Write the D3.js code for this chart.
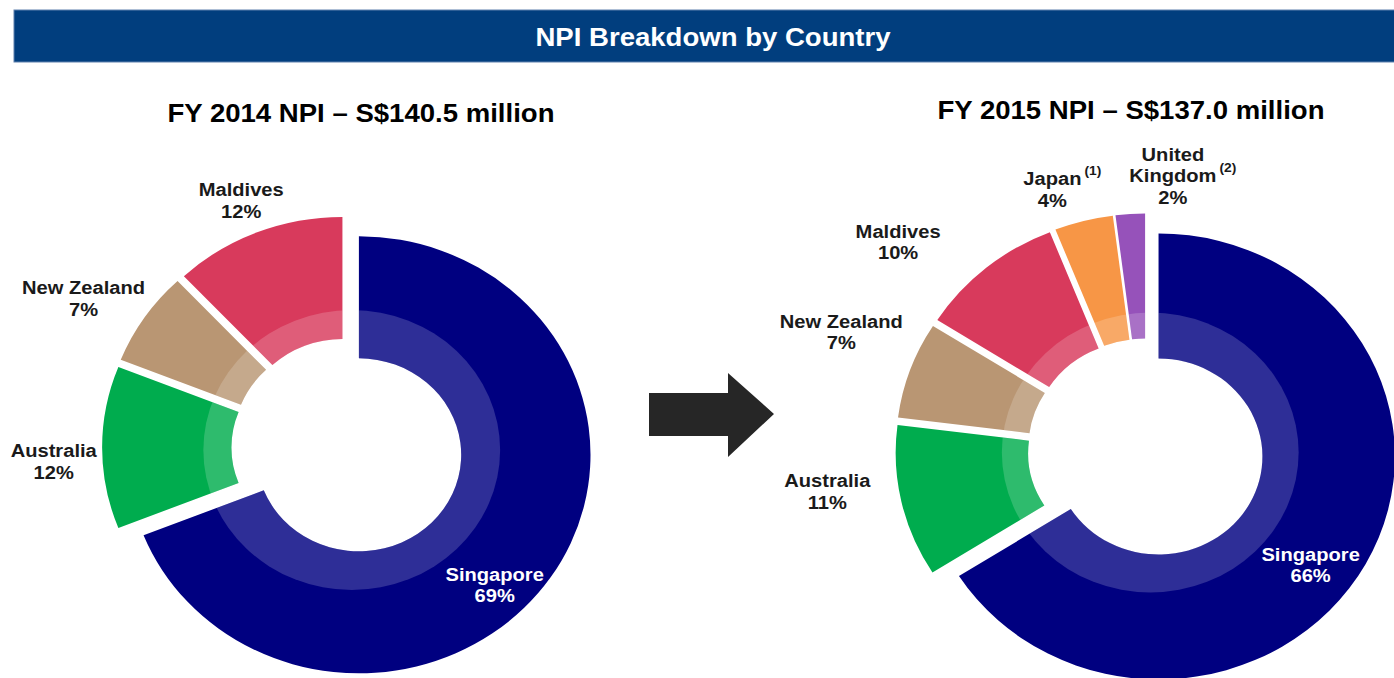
<!DOCTYPE html>
<html>
<head>
<meta charset="utf-8">
<script src="https://cdn.jsdelivr.net/npm/d3@7"></script>
<style>
  body { margin: 0; background: #fff; }
  text { font-family: 'Liberation Sans', Arial, sans-serif; font-weight: bold; }
</style>
</head>
<body>
<svg width="1394" height="678"></svg>
<script>
const years = ['FY 2014', 'FY 2015']
const npiTotals = [140.5, 137.0]

const countries2014 = ['Singapore', 'Australia', 'New Zealand', 'Maldives']
const share2014 = [69, 12, 7, 12]

const countries2015 = ['Singapore', 'Australia', 'New Zealand', 'Maldives', 'Japan', 'United Kingdom']
const share2015 = [66, 11, 7, 10, 4, 2]
const notes2015 = ['', '', '', '', '(1)', '(2)']

const colours = {
  Singapore: '#000080',
  Australia: '#00ac4e',
  'New Zealand': '#b99673',
  Maldives: '#d83a5c',
  Japan: '#f79646',
  'United Kingdom': '#9652ba'
}

const svg = d3.select('svg')
const sx = 1.06 // the slide is stretched slightly sideways

function stretchedText (x, y, str, size, fill, anchor) {
  const g = svg.append('g').attr('transform', 'translate(' + x + ',' + y + ') scale(' + sx + ',1)')
  return g.append('text')
    .attr('text-anchor', anchor || 'middle')
    .attr('font-size', size)
    .attr('fill', fill)
    .text(str)
}

// header bar
svg.append('rect')
  .attr('x', 14).attr('y', 10)
  .attr('width', 1400).attr('height', 52)
  .attr('fill', '#013e7e')
  .attr('stroke', '#5f80ad').attr('stroke-width', 1)
stretchedText(713, 46, 'NPI Breakdown by Country', 26, '#fff')

// arrow between the two years
svg.append('polygon')
  .attr('points', '649,393 728,393 728,373 774,414 728,457 728,436 649,436')
  .attr('fill', '#262626')

function drawDonut (id, names, values, notes, opts) {
  const arcs = d3.pie().sort(null)(values)
  const arcOuter = d3.arc().innerRadius(opts.rIn).outerRadius(opts.r)
  const shift = function (d) {
    const a = (d.startAngle + d.endAngle) / 2
    return 'translate(' + opts.explode * Math.sin(a) + ',' + (-opts.explode * Math.cos(a)) + ')'
  }

  const g = svg.append('g')
    .attr('transform', 'translate(' + opts.cx + ',' + opts.cy + ') scale(' + sx + ',1)')

  g.selectAll('.slice')
    .data(arcs)
    .enter().append('path')
    .attr('class', 'slice')
    .attr('transform', shift)
    .attr('d', arcOuter)
    .attr('fill', (d, i) => colours[names[i]])

  // light inner band: one fixed disc, showing only where the slices are
  const clip = g.append('clipPath').attr('id', 'clip-' + id)
  clip.selectAll('path')
    .data(arcs)
    .enter().append('path')
    .attr('transform', shift)
    .attr('d', arcOuter)
  g.append('circle')
    .attr('cx', 4).attr('cy', 2.5)
    .attr('r', opts.rMid)
    .attr('fill', '#fff')
    .attr('fill-opacity', 0.18)
    .attr('clip-path', 'url(#clip-' + id + ')')

  // data labels
  arcs.forEach(function (d, i) {
    const a = (d.startAngle + d.endAngle) / 2
    const inside = i === 0
    const rl = inside ? opts.rInsideLabel : opts.rLabel
    const x = opts.cx + sx * rl * Math.sin(a) + opts.nudge[i][0]
    const y = opts.cy - rl * Math.cos(a) + opts.nudge[i][1]
    const fill = inside ? '#fff' : '#1a1a1a'
    const lines = names[i] === 'United Kingdom' ? ['United', 'Kingdom'] : [names[i]]
    let last
    lines.forEach(function (t, k) {
      last = stretchedText(x, y - 4 + k * 21.5, t, 19, fill)
    })
    if (notes && notes[i]) {
      const w = last.node().getComputedTextLength() * sx
      stretchedText(x + w / 2 + 3, y - 4 + (lines.length - 1) * 21.5 - 10, notes[i], 13, fill, 'start')
    }
    stretchedText(x, y - 4 + lines.length * 21.5, values[i] + '%', 19, fill)
  })

  stretchedText(opts.titleX, opts.titleY,
    opts.year + ' NPI \u2013 S$' + opts.total.toFixed(1) + ' million', 26, '#000')
}

drawDonut('y2014', countries2014, share2014, null, {
  year: years[0], total: npiTotals[0], titleX: 361, titleY: 122,
  cx: 347.5, cy: 447.5, r: 218.5, rIn: 96.5, rMid: 140, explode: 13,
  rLabel: 280, rInsideLabel: 181,
  nudge: [[-11.5, 35.5], [3, 13.5], [-18.5, 8], [3, 13]]
})

drawDonut('y2015', countries2015, share2015, notes2015, {
  year: years[1], total: npiTotals[1], titleX: 1131, titleY: 119,
  cx: 1146, cy: 450, r: 223, rIn: 98, rMid: 140, explode: 13.5,
  rLabel: 280, rInsideLabel: 181,
  nudge: [[-3.5, 27.5], [-29, -20], [-25.4, -23.5], [-58.7, 7.6], [-19.8, 10.3], [45.5, -5.6]]
})
</script>
</body>
</html>
